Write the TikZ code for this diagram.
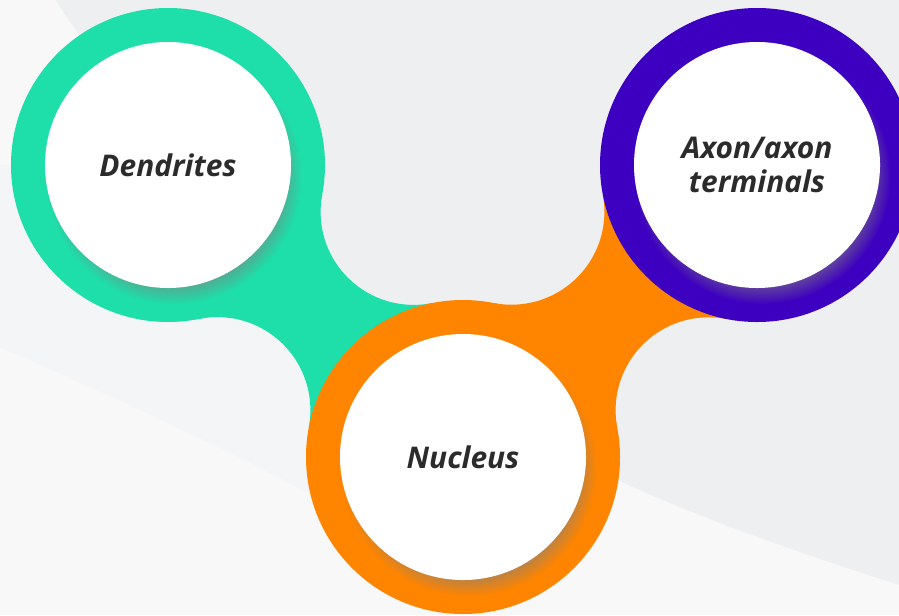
\documentclass[tikz,border=0pt]{standalone}
\usepackage{fontspec}
\setmainfont{Open Sans}
\usetikzlibrary{positioning, shadows}
\definecolor{dendcol}{RGB}{30,222,170}
\definecolor{nuccol}{RGB}{255,133,0}
\definecolor{axcol}{RGB}{62,0,192}
\definecolor{bgcol}{RGB}{238,239,241}
\definecolor{bgmid}{RGB}{244,245,246}
\definecolor{bglight}{RGB}{248,248,249}
\definecolor{txtcol}{RGB}{43,43,43}

\tikzset{
  ring/.style={circle, minimum size=3.14cm, inner sep=0pt},
  hole/.style={circle, fill=white, minimum size=2.46cm, inner sep=0pt, align=center,
    text=txtcol, font=\fontsize{8.5}{9.6}\selectfont\bfseries\itshape,
    circular drop shadow={shadow xshift=1.5pt, shadow yshift=-3pt, opacity=.55, shadow scale=1.04}},
}

\begin{document}
\begin{tikzpicture}[on grid]
  % background
  \fill[bgcol] (0,0) rectangle (8.99,-6.15);
  \useasboundingbox (0,0) rectangle (8.99,-6.15);

  \node[ring] (dend) at (1.68,-1.65) {};
  \node[ring, below right=2.92cm and 2.95cm of dend] (nuc) {};
  \node[ring, above right=2.92cm and 2.94cm of nuc] (axon) {};

  \fill[bglight] (0,0) -- (0.55,0) -- (dend.center) -- (0,-1.65) -- cycle;
  \fill[bgmid] (0,-1.65) -- (dend.center) -- (nuc.center) -- (3.3,-5.05) -- (0,-3.47) -- cycle;
  \fill[bglight] (0,-3.47) .. controls (1.2,-4.0) and (2.3,-4.5) .. (3.3,-5.05)
    -- (6.0,-4.72) .. controls (6.9,-5.15) and (7.9,-5.5) .. (8.99,-5.85)
    -- (8.99,-6.15) -- (0,-6.15) -- cycle;

  % gaps between the blobs
  \path (dend) ++(2.456,-0.469) coordinate (gapa);
  \path (dend) ++(0.494,-2.451) coordinate (gapb);
  \path (axon) ++(-0.484,-2.453) coordinate (gapc);
  \path (axon) ++(-2.456,-0.467) coordinate (gapd);

  \begin{scope}
    \clip (dend.center) -- (gapa) -- (nuc.center) -- (gapb) -- cycle;
    \fill[dendcol, even odd rule] (0,0) rectangle (8.99,-6.15)
      (gapa) circle (0.93) (gapb) circle (0.93);
  \end{scope}
  \fill[dendcol] (dend) circle (1.57);

  \begin{scope}
    \clip (axon.center) -- (gapc) -- (nuc.center) -- (gapd) -- cycle;
    \fill[nuccol, even odd rule] (0,0) rectangle (8.99,-6.15)
      (gapc) circle (0.93) (gapd) circle (0.93);
  \end{scope}
  \fill[nuccol] (nuc) circle (1.57);
  \fill[axcol] (axon) circle (1.57);

  \node[hole] (dendin) at (dend) {Dendrites};
  \node[hole] (nucin) at (nuc) {Nucleus};
  \node[hole] (axonin) at (axon) {Axon/axon\\terminals};
\end{tikzpicture}
\end{document}
